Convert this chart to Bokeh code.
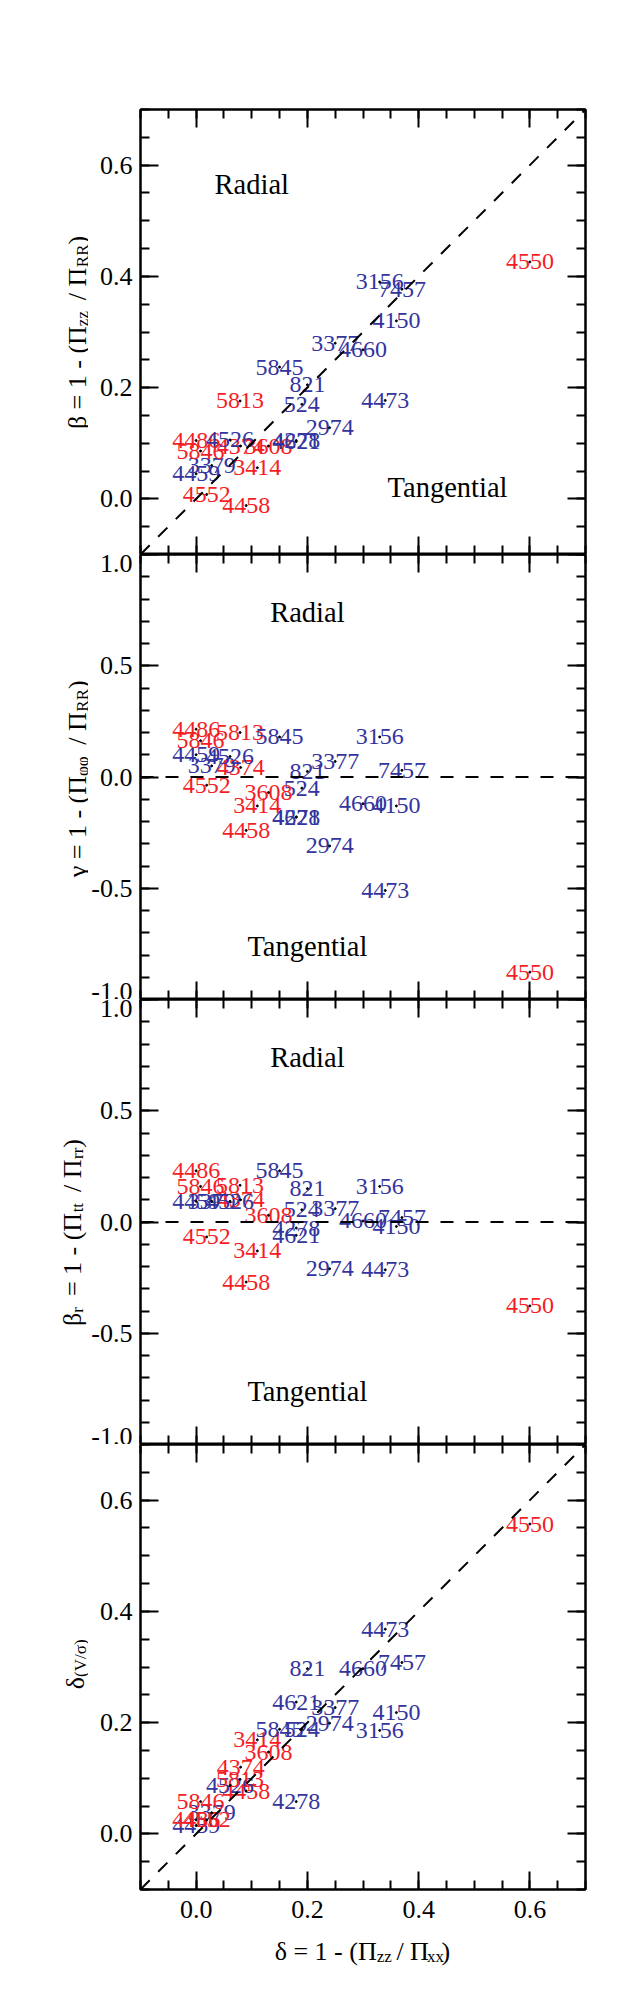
import math
from bokeh.plotting import figure
from bokeh.models import (Range1d, LinearAxis, FixedTicker, PrintfTickFormatter,
                          CustomJSTickFormatter, Label, ColumnDataSource, Slope, Span)
from bokeh.layouts import column, row
from bokeh.embed import file_html
from bokeh.resources import INLINE
from bokeh.core.properties import value

# ---------------- data ----------------
galaxies = ["524", "821", "2974", "3156", "3377", "3379", "3414", "3608", "4150", "4278",
            "4374", "4458", "4459", "4473", "4486", "4526", "4550", "4552", "4621", "4660",
            "5813", "5845", "5846", "7457"]
slow_rotator = [False, False, False, False, False, False, True, True, False, False,
                True, True, False, False, True, False, True, True, False, False,
                True, False, True, False]
delta = [0.19, 0.20, 0.24, 0.33, 0.25, 0.028, 0.11, 0.13, 0.36, 0.18,
         0.08, 0.09, 0.00, 0.34, 0.00, 0.061, 0.60, 0.019, 0.18, 0.30,
         0.079, 0.15, 0.008, 0.37]
beta = [0.17, 0.205, 0.128, 0.39, 0.28, 0.06, 0.056, 0.095, 0.32, 0.105,
        0.095, -0.012, 0.045, 0.177, 0.105, 0.106, 0.426, 0.008, 0.103, 0.268,
        0.176, 0.237, 0.086, 0.377]
gamma = [-0.05, 0.025, -0.31, 0.18, 0.07, 0.05, -0.13, -0.07, -0.13, -0.18,
         0.043, -0.24, 0.10, -0.51, 0.215, 0.092, -0.877, -0.037, -0.18, -0.12,
         0.20, 0.18, 0.163, 0.03]
beta_r = [0.055, 0.15, -0.21, 0.16, 0.06, 0.093, -0.13, 0.03, -0.02, -0.027,
          0.10, -0.27, 0.093, -0.215, 0.23, 0.093, -0.377, -0.067, -0.06, 0.005,
          0.165, 0.23, 0.16, 0.02]
delta_vsig = [0.188, 0.297, 0.199, 0.186, 0.227, 0.038, 0.169, 0.147, 0.218, 0.058,
              0.12, 0.077, 0.015, 0.368, 0.025, 0.087, 0.557, 0.025, 0.237, 0.297,
              0.098, 0.188, 0.058, 0.308]

RED = "#f41e26"
BLUE = "#34349e"
colors = [RED if s else BLUE for s in slow_rotator]

x_major = [0.0, 0.2, 0.4, 0.6]
x_minor = [round(-0.1 + 0.05 * i, 2) for i in range(17)]
y_small_major = [0.0, 0.2, 0.4, 0.6]
y_small_minor = [round(-0.1 + 0.05 * i, 2) for i in range(17)]
y_big_major = [-1.0, -0.5, 0.0, 0.5, 1.0]
y_big_minor = [round(-1.0 + 0.1 * i, 1) for i in range(21)]

FONT = "Liberation Serif"
FW = 445
FH = 445
TOP = 109          # frame top in page px
LABW = 88          # width of the y-title strip
LEFT = 138 - LABW  # left border of the panels
BOT4 = 45
XTH = 45
HTOT = TOP + 4 * FH + BOT4 + XTH
MAIN = 26
SUB = 17
SHIFT = 5
LW = 2

WID = {' ': 0.25, '=': 0.564, '1': 0.5, '-': 0.333, '(': 0.333, ')': 0.333, '/': 0.278,
       'z': 0.444, 'x': 0.5, 'R': 0.667, 'r': 0.333, 't': 0.278, 'Π': 0.76, 'β': 0.55,
       'γ': 0.5, 'δ': 0.55, 'φ': 0.6, 'V': 0.722, 'σ': 0.58, '~': 0.4}


def tw(s, size):
    return sum(WID.get(c, 0.5) for c in s) * size


def style_axis(ax, major, minor, labels):
    ax.ticker = FixedTicker(ticks=major, minor_ticks=minor)
    ax.axis_line_color = "black"
    ax.axis_line_width = LW
    ax.major_tick_line_color = "black"
    ax.minor_tick_line_color = "black"
    ax.major_tick_line_width = LW
    ax.minor_tick_line_width = LW
    ax.major_tick_in = 18
    ax.major_tick_out = 0
    ax.minor_tick_in = 9
    ax.minor_tick_out = 0
    ax.axis_label = None
    if labels:
        ax.formatter = PrintfTickFormatter(format="%.1f")
        ax.major_label_text_font = FONT
        ax.major_label_text_font_size = "26px"
        ax.major_label_text_color = "black"
    else:
        ax.formatter = CustomJSTickFormatter(code="return ''")
        ax.major_label_text_font_size = "0px"
        ax.major_label_standoff = 0


xr = Range1d(-0.1, 0.7)


def make_fig(yr, ymaj, ymin, top, bottom, xlabels):
    p = figure(frame_width=FW, frame_height=FH, x_range=xr, y_range=Range1d(*yr),
               output_backend="svg", toolbar_location=None,
               min_border_left=LEFT, min_border_right=25,
               min_border_top=top, min_border_bottom=bottom)
    p.grid.visible = False
    p.outline_line_color = "black"
    p.outline_line_width = LW
    p.add_layout(LinearAxis(), "above")
    p.add_layout(LinearAxis(), "right")
    for ax in p.below:
        style_axis(ax, x_major, x_minor, xlabels)
        ax.major_label_standoff = 11
    for ax in p.above:
        style_axis(ax, x_major, x_minor, False)
    for ax in p.left:
        style_axis(ax, ymaj, ymin, True)
        ax.major_label_standoff = 8
    for ax in p.right:
        style_axis(ax, ymaj, ymin, False)
    return p


def add_points(p, yvals):
    src = ColumnDataSource(dict(x=delta, y=yvals, name=galaxies, color=colors))
    p.text(x="x", y="y", text="name", source=src, text_color="color",
           text_font=value(FONT), text_font_size="24px",
           text_align="center", text_baseline="middle")
    p.scatter(x="x", y="y", source=src, size=2, color="black")


def region_text(p, x, y, t):
    p.add_layout(Label(x=x, y=y, text=t, text_font=FONT, text_font_size="28.5px",
                       text_color="black", text_align="center", text_baseline="middle"))


def comp_label(p, pieces, base, center, rotated):
    """Title made of main-size and subscript pieces, placed in pixel coordinates.
    '~' pieces are pure gaps.  First piece is right-aligned on its junction, middle
    main pieces centred in their slot, subscripts and the closing piece left-aligned."""
    sizes = [MAIN if k == 'm' else SUB for t, k in pieces]
    widths = [tw(t, s) for (t, k), s in zip(pieces, sizes)]
    pos = -sum(widths) / 2.0
    n = len(pieces)
    for i, ((t, k), s, w) in enumerate(zip(pieces, sizes, widths)):
        if t.strip(" ~"):
            if k == 's' or i == n - 1:
                align, at = "left", pos
            elif i == 0:
                align, at = "right", pos + w
            else:
                align, at = "center", pos + w / 2.0
            sh = SHIFT if k == 's' else 0
            if rotated:
                x, y, ang = base + sh, center + at, math.pi / 2
            else:
                x, y, ang = center + at, base - sh, 0
            p.add_layout(Label(x=x, y=y, text=t, angle=ang, text_font=FONT,
                               text_font_size=f"{s}px", text_color="black",
                               text_align=align, text_baseline="alphabetic"))
        pos += w


DASH = "13 12"

# Panel 1
p1 = make_fig((-0.1, 0.7), y_small_major, y_small_minor, TOP, 0, False)
p1.add_layout(Slope(gradient=1, y_intercept=0, line_color="black", line_width=LW, line_dash=DASH))
add_points(p1, beta)
region_text(p1, 0.10, 0.565, "Radial")
region_text(p1, 0.452, 0.02, "Tangential")

# Panel 2
p2 = make_fig((-1.0, 1.0), y_big_major, y_big_minor, 0, 0, False)
p2.add_layout(Span(location=0, dimension="width", line_color="black", line_width=LW, line_dash=DASH))
add_points(p2, gamma)
region_text(p2, 0.20, 0.738, "Radial")
region_text(p2, 0.20, -0.76, "Tangential")

# Panel 3
p3 = make_fig((-1.0, 1.0), y_big_major, y_big_minor, 0, 0, False)
p3.add_layout(Span(location=0, dimension="width", line_color="black", line_width=LW, line_dash=DASH))
add_points(p3, beta_r)
region_text(p3, 0.20, 0.739, "Radial")
region_text(p3, 0.20, -0.76, "Tangential")

# Panel 4
p4 = make_fig((-0.1, 0.7), y_small_major, y_small_minor, 0, BOT4, True)
p4.add_layout(Slope(gradient=1, y_intercept=0, line_color="black", line_width=LW, line_dash=DASH))
add_points(p4, delta_vsig)

# strip holding the y titles (pixel coordinates, y measured upward from the strip bottom)
ylab = figure(width=LABW, height=HTOT, x_range=Range1d(0, LABW), y_range=Range1d(0, HTOT),
              output_backend="svg", toolbar_location=None, min_border=0,
              x_axis_location=None, y_axis_location=None)
ylab.grid.visible = False
ylab.outline_line_color = None


def cy(page_y):
    return HTOT - page_y


comp_label(ylab, [("β = 1 - (Π", 'm'), ("zz", 's'), ("~", 'm'), ("/ Π", 'm'), ("RR", 's'), (")", 'm')],
           77, cy(TOP + FH * 0.5 + 1.5), True)
comp_label(ylab, [("γ = 1 - (Π", 'm'), ("φφ", 's'), ("~", 'm'), ("/ Π", 'm'), ("RR", 's'), (")", 'm')],
           77, cy(TOP + FH * 1.5 + 3), True)
comp_label(ylab, [("β", 'm'), ("r", 's'), ("~", 'm'), ("= 1 - (Π", 'm'), ("tt", 's'), ("~", 'm'),
                  ("/ Π", 'm'), ("rr", 's'), (")", 'm')],
           72, cy(TOP + FH * 2.5 + 11), True)
comp_label(ylab, [("δ", 'm'), ("(V/σ)", 's')], 75, cy(TOP + FH * 3.5 - 2), True)

# strip holding the x title
XT0 = LABW
xt = figure(width=LEFT + FW + 25, height=XTH, x_range=Range1d(XT0, XT0 + LEFT + FW + 25),
            y_range=Range1d(0, XTH), output_backend="svg", toolbar_location=None, min_border=0,
            x_axis_location=None, y_axis_location=None)
xt.grid.visible = False
xt.outline_line_color = None
comp_label(xt, [("δ = 1 - (Π", 'm'), ("zz", 's'), ("~", 'm'), ("/ Π", 'm'), ("xx", 's'), (")", 'm')],
           HTOT - 1951, 355, False)

layout = row(ylab, column(p1, p2, p3, p4, xt))
open("out.html", "w").write(file_html(layout, INLINE))
